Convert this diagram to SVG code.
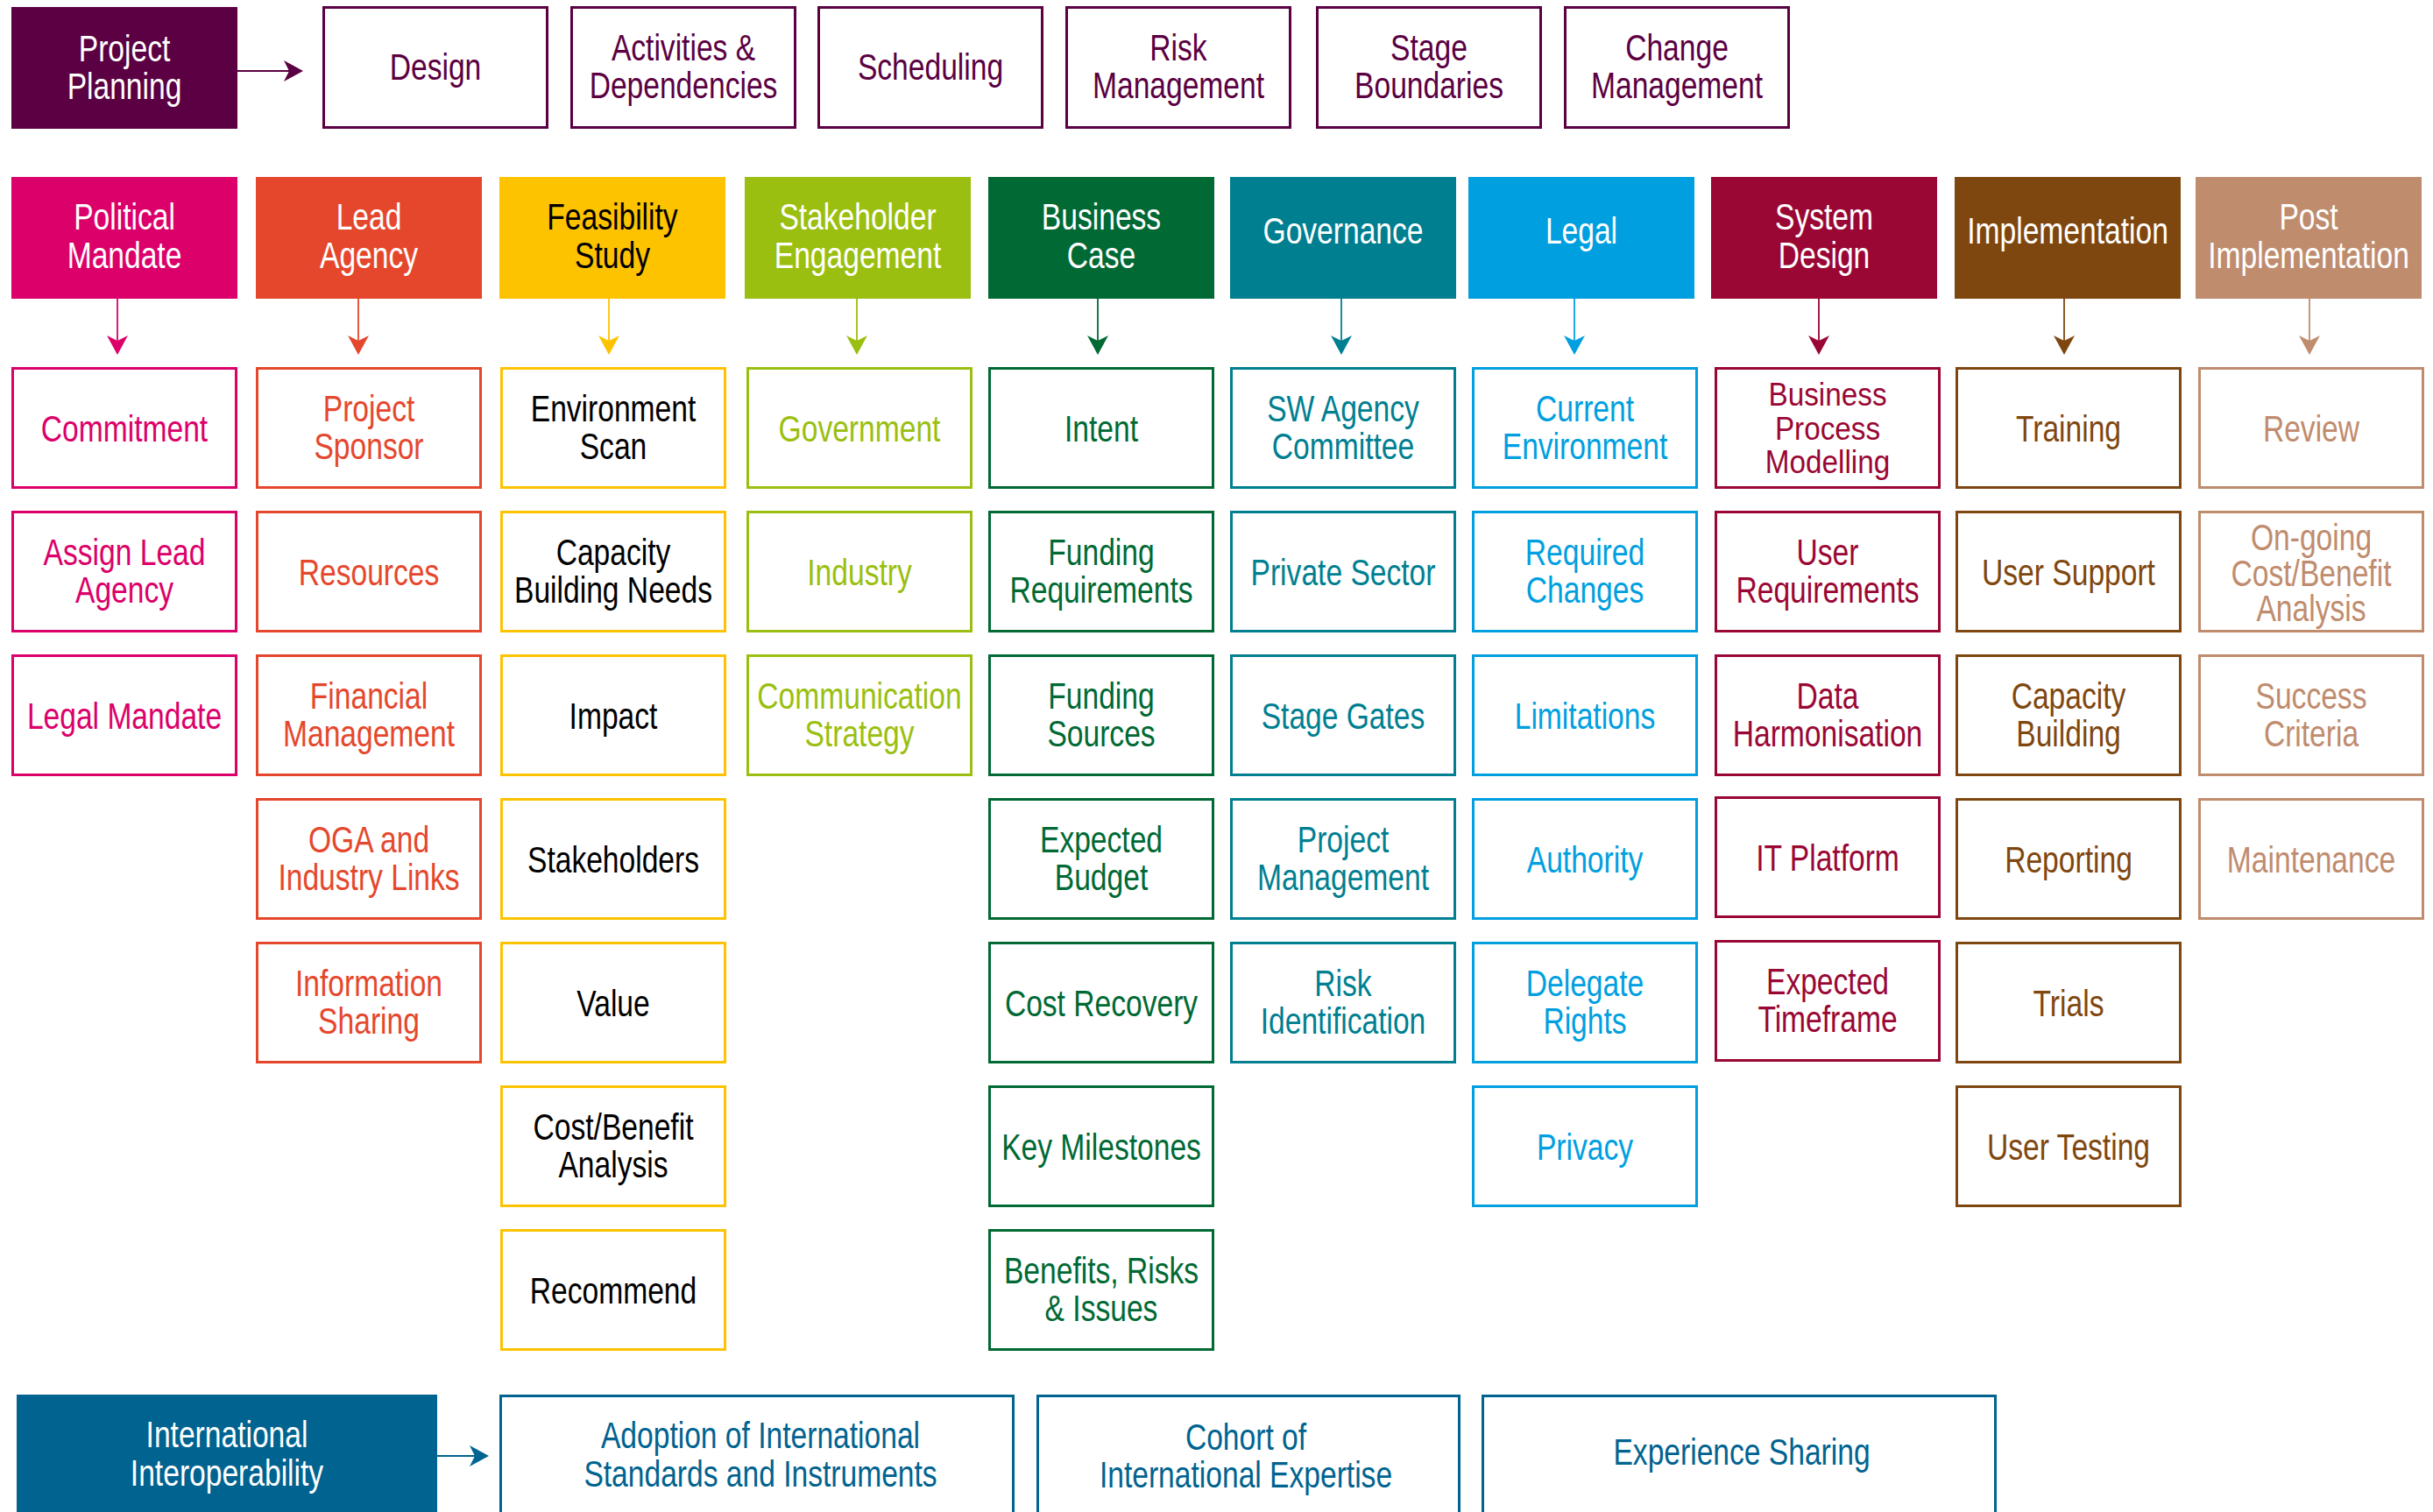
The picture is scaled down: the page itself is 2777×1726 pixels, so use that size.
<svg xmlns="http://www.w3.org/2000/svg" width="2777" height="1726" viewBox="0 0 2777 1726">
<style>
text{font-family:"Liberation Sans",Arial,sans-serif;font-size:42px;text-anchor:middle}
.b{fill:#fff;stroke-width:3}
.w{fill:#fff}
.k{fill:#000}
.ln{fill:none;stroke-width:1.8}
.pu{stroke:#5B0042}.Fpu{fill:#5B0042}
.c0{stroke:#DB006A}.f0{fill:#DB006A}
.c1{stroke:#E5472D}.f1{fill:#E5472D}
.c2{stroke:#FDC300}.f2{fill:#FDC300}
.c3{stroke:#9ABF10}.f3{fill:#9ABF10}
.c4{stroke:#006934}.f4{fill:#006934}
.c5{stroke:#007F91}.f5{fill:#007F91}
.c6{stroke:#009FE0}.f6{fill:#009FE0}
.c7{stroke:#9A0734}.f7{fill:#9A0734}
.c8{stroke:#7F4710}.f8{fill:#7F4710}
.c9{stroke:#BF8C6E}.f9{fill:#BF8C6E}
.nv{stroke:#006390}.Fnv{fill:#006390}
</style>
<defs>
<marker id="m-pu" markerUnits="userSpaceOnUse" markerWidth="22" markerHeight="24" refX="6" refY="12" orient="auto"><path d="M0,0 L22,12 L0,24 L6,12 Z" fill="#5B0042"/></marker>
<marker id="m-nv" markerUnits="userSpaceOnUse" markerWidth="22" markerHeight="24" refX="6" refY="12" orient="auto"><path d="M0,0 L22,12 L0,24 L6,12 Z" fill="#006390"/></marker>
<marker id="m0" markerUnits="userSpaceOnUse" markerWidth="22" markerHeight="24" refX="6" refY="12" orient="auto"><path d="M0,0 L22,12 L0,24 L6,12 Z" fill="#DB006A"/></marker>
<marker id="m1" markerUnits="userSpaceOnUse" markerWidth="22" markerHeight="24" refX="6" refY="12" orient="auto"><path d="M0,0 L22,12 L0,24 L6,12 Z" fill="#E5472D"/></marker>
<marker id="m2" markerUnits="userSpaceOnUse" markerWidth="22" markerHeight="24" refX="6" refY="12" orient="auto"><path d="M0,0 L22,12 L0,24 L6,12 Z" fill="#FDC300"/></marker>
<marker id="m3" markerUnits="userSpaceOnUse" markerWidth="22" markerHeight="24" refX="6" refY="12" orient="auto"><path d="M0,0 L22,12 L0,24 L6,12 Z" fill="#9ABF10"/></marker>
<marker id="m4" markerUnits="userSpaceOnUse" markerWidth="22" markerHeight="24" refX="6" refY="12" orient="auto"><path d="M0,0 L22,12 L0,24 L6,12 Z" fill="#006934"/></marker>
<marker id="m5" markerUnits="userSpaceOnUse" markerWidth="22" markerHeight="24" refX="6" refY="12" orient="auto"><path d="M0,0 L22,12 L0,24 L6,12 Z" fill="#007F91"/></marker>
<marker id="m6" markerUnits="userSpaceOnUse" markerWidth="22" markerHeight="24" refX="6" refY="12" orient="auto"><path d="M0,0 L22,12 L0,24 L6,12 Z" fill="#009FE0"/></marker>
<marker id="m7" markerUnits="userSpaceOnUse" markerWidth="22" markerHeight="24" refX="6" refY="12" orient="auto"><path d="M0,0 L22,12 L0,24 L6,12 Z" fill="#9A0734"/></marker>
<marker id="m8" markerUnits="userSpaceOnUse" markerWidth="22" markerHeight="24" refX="6" refY="12" orient="auto"><path d="M0,0 L22,12 L0,24 L6,12 Z" fill="#7F4710"/></marker>
<marker id="m9" markerUnits="userSpaceOnUse" markerWidth="22" markerHeight="24" refX="6" refY="12" orient="auto"><path d="M0,0 L22,12 L0,24 L6,12 Z" fill="#BF8C6E"/></marker>
</defs>
<rect width="2777" height="1726" fill="#fff"/>

<g id="connectors">
<line class="ln pu" x1="271" y1="81" x2="330" y2="81" marker-end="url(#m-pu)"/>
<line class="ln nv" x1="499" y1="1662" x2="542" y2="1662" marker-end="url(#m-nv)"/>
<line class="ln c0" x1="134" y1="341" x2="134" y2="389" marker-end="url(#m0)"/>
<line class="ln c1" x1="409" y1="341" x2="409" y2="389" marker-end="url(#m1)"/>
<line class="ln c2" x1="695" y1="341" x2="695" y2="389" marker-end="url(#m2)"/>
<line class="ln c3" x1="978" y1="341" x2="978" y2="389" marker-end="url(#m3)"/>
<line class="ln c4" x1="1253" y1="341" x2="1253" y2="389" marker-end="url(#m4)"/>
<line class="ln c5" x1="1531" y1="341" x2="1531" y2="389" marker-end="url(#m5)"/>
<line class="ln c6" x1="1797" y1="341" x2="1797" y2="389" marker-end="url(#m6)"/>
<line class="ln c7" x1="2076" y1="341" x2="2076" y2="389" marker-end="url(#m7)"/>
<line class="ln c8" x1="2356" y1="341" x2="2356" y2="389" marker-end="url(#m8)"/>
<line class="ln c9" x1="2636" y1="341" x2="2636" y2="389" marker-end="url(#m9)"/>
</g>

<g id="nodes">
<!-- top row -->
<g id="project-planning"><rect class="Fpu" x="13" y="8" width="258" height="139"/><text class="w" transform="matrix(.8 0 0 1 142 77.5)"><tspan x="0" y="-8">Project</tspan><tspan x="0" y="35">Planning</tspan></text></g>
<g id="design"><rect class="b pu" x="369.5" y="8.5" width="255" height="137"/><text class="Fpu" transform="matrix(.8 0 0 1 497 77)"><tspan x="0" y="14">Design</tspan></text></g>
<g id="activities"><rect class="b pu" x="652.5" y="8.5" width="255" height="137"/><text class="Fpu" transform="matrix(.8 0 0 1 780 77)"><tspan x="0" y="-8">Activities &amp;</tspan><tspan x="0" y="35">Dependencies</tspan></text></g>
<g id="scheduling"><rect class="b pu" x="934.5" y="8.5" width="255" height="137"/><text class="Fpu" transform="matrix(.8 0 0 1 1062 77)"><tspan x="0" y="14">Scheduling</tspan></text></g>
<g id="risk-management"><rect class="b pu" x="1217.5" y="8.5" width="255" height="137"/><text class="Fpu" transform="matrix(.8 0 0 1 1345 77)"><tspan x="0" y="-8">Risk</tspan><tspan x="0" y="35">Management</tspan></text></g>
<g id="stage-boundaries"><rect class="b pu" x="1503.5" y="8.5" width="255" height="137"/><text class="Fpu" transform="matrix(.8 0 0 1 1631 77)"><tspan x="0" y="-8">Stage</tspan><tspan x="0" y="35">Boundaries</tspan></text></g>
<g id="change-management"><rect class="b pu" x="1786.5" y="8.5" width="255" height="137"/><text class="Fpu" transform="matrix(.8 0 0 1 1914 77)"><tspan x="0" y="-8">Change</tspan><tspan x="0" y="35">Management</tspan></text></g>

<!-- headers -->
<g id="political-mandate"><rect class="f0" x="13" y="202" width="258" height="139"/><text class="w" transform="matrix(.8 0 0 1 142 271.5)"><tspan x="0" y="-10">Political</tspan><tspan x="0" y="34">Mandate</tspan></text></g>
<g id="lead-agency"><rect class="f1" x="292" y="202" width="258" height="139"/><text class="w" transform="matrix(.8 0 0 1 421 271.5)"><tspan x="0" y="-10">Lead</tspan><tspan x="0" y="34">Agency</tspan></text></g>
<g id="feasibility-study"><rect class="f2" x="570" y="202" width="258" height="139"/><text class="k" transform="matrix(.8 0 0 1 699 271.5)"><tspan x="0" y="-10">Feasibility</tspan><tspan x="0" y="34">Study</tspan></text></g>
<g id="stakeholder-engagement"><rect class="f3" x="850" y="202" width="258" height="139"/><text class="w" transform="matrix(.8 0 0 1 979 271.5)"><tspan x="0" y="-10">Stakeholder</tspan><tspan x="0" y="34">Engagement</tspan></text></g>
<g id="business-case"><rect class="f4" x="1128" y="202" width="258" height="139"/><text class="w" transform="matrix(.8 0 0 1 1257 271.5)"><tspan x="0" y="-10">Business</tspan><tspan x="0" y="34">Case</tspan></text></g>
<g id="governance"><rect class="f5" x="1404" y="202" width="258" height="139"/><text class="w" transform="matrix(.8 0 0 1 1533 271.5)"><tspan x="0" y="6">Governance</tspan></text></g>
<g id="legal"><rect class="f6" x="1676" y="202" width="258" height="139"/><text class="w" transform="matrix(.8 0 0 1 1805 271.5)"><tspan x="0" y="6">Legal</tspan></text></g>
<g id="system-design"><rect class="f7" x="1953" y="202" width="258" height="139"/><text class="w" transform="matrix(.8 0 0 1 2082 271.5)"><tspan x="0" y="-10">System</tspan><tspan x="0" y="34">Design</tspan></text></g>
<g id="implementation"><rect class="f8" x="2231" y="202" width="258" height="139"/><text class="w" transform="matrix(.8 0 0 1 2360 271.5)"><tspan x="0" y="6">Implementation</tspan></text></g>
<g id="post-implementation"><rect class="f9" x="2506" y="202" width="258" height="139"/><text class="w" transform="matrix(.8 0 0 1 2635 271.5)"><tspan x="0" y="-10">Post</tspan><tspan x="0" y="34">Implementation</tspan></text></g>

<!-- column 0 -->
<g id="commitment"><rect class="b c0" x="14.5" y="420.5" width="255" height="136"/><text class="f0" transform="matrix(.8 0 0 1 142 488.5)"><tspan x="0" y="15">Commitment</tspan></text></g>
<g id="assign-lead-agency"><rect class="b c0" x="14.5" y="584.5" width="255" height="136"/><text class="f0" transform="matrix(.8 0 0 1 142 652.5)"><tspan x="0" y="-8">Assign Lead</tspan><tspan x="0" y="35">Agency</tspan></text></g>
<g id="legal-mandate"><rect class="b c0" x="14.5" y="748.5" width="255" height="136"/><text class="f0" transform="matrix(.8 0 0 1 142 816.5)"><tspan x="0" y="15">Legal Mandate</tspan></text></g>

<!-- column 1 -->
<g id="project-sponsor"><rect class="b c1" x="293.5" y="420.5" width="255" height="136"/><text class="f1" transform="matrix(.8 0 0 1 421 488.5)"><tspan x="0" y="-8">Project</tspan><tspan x="0" y="35">Sponsor</tspan></text></g>
<g id="resources"><rect class="b c1" x="293.5" y="584.5" width="255" height="136"/><text class="f1" transform="matrix(.8 0 0 1 421 652.5)"><tspan x="0" y="15">Resources</tspan></text></g>
<g id="financial-management"><rect class="b c1" x="293.5" y="748.5" width="255" height="136"/><text class="f1" transform="matrix(.8 0 0 1 421 816.5)"><tspan x="0" y="-8">Financial</tspan><tspan x="0" y="35">Management</tspan></text></g>
<g id="oga-industry-links"><rect class="b c1" x="293.5" y="912.5" width="255" height="136"/><text class="f1" transform="matrix(.8 0 0 1 421 980.5)"><tspan x="0" y="-8">OGA and</tspan><tspan x="0" y="35">Industry Links</tspan></text></g>
<g id="information-sharing"><rect class="b c1" x="293.5" y="1076.5" width="255" height="136"/><text class="f1" transform="matrix(.8 0 0 1 421 1144.5)"><tspan x="0" y="-8">Information</tspan><tspan x="0" y="35">Sharing</tspan></text></g>

<!-- column 2 -->
<g id="environment-scan"><rect class="b c2" x="572.5" y="420.5" width="255" height="136"/><text class="k" transform="matrix(.8 0 0 1 700 488.5)"><tspan x="0" y="-8">Environment</tspan><tspan x="0" y="35">Scan</tspan></text></g>
<g id="capacity-building-needs"><rect class="b c2" x="572.5" y="584.5" width="255" height="136"/><text class="k" transform="matrix(.8 0 0 1 700 652.5)"><tspan x="0" y="-8">Capacity</tspan><tspan x="0" y="35">Building Needs</tspan></text></g>
<g id="impact"><rect class="b c2" x="572.5" y="748.5" width="255" height="136"/><text class="k" transform="matrix(.8 0 0 1 700 816.5)"><tspan x="0" y="15">Impact</tspan></text></g>
<g id="stakeholders"><rect class="b c2" x="572.5" y="912.5" width="255" height="136"/><text class="k" transform="matrix(.8 0 0 1 700 980.5)"><tspan x="0" y="15">Stakeholders</tspan></text></g>
<g id="value"><rect class="b c2" x="572.5" y="1076.5" width="255" height="136"/><text class="k" transform="matrix(.8 0 0 1 700 1144.5)"><tspan x="0" y="15">Value</tspan></text></g>
<g id="cost-benefit-analysis"><rect class="b c2" x="572.5" y="1240.5" width="255" height="136"/><text class="k" transform="matrix(.8 0 0 1 700 1308.5)"><tspan x="0" y="-8">Cost/Benefit</tspan><tspan x="0" y="35">Analysis</tspan></text></g>
<g id="recommend"><rect class="b c2" x="572.5" y="1404.5" width="255" height="136"/><text class="k" transform="matrix(.8 0 0 1 700 1472.5)"><tspan x="0" y="15">Recommend</tspan></text></g>

<!-- column 3 -->
<g id="government"><rect class="b c3" x="853.5" y="420.5" width="255" height="136"/><text class="f3" transform="matrix(.8 0 0 1 981 488.5)"><tspan x="0" y="15">Government</tspan></text></g>
<g id="industry"><rect class="b c3" x="853.5" y="584.5" width="255" height="136"/><text class="f3" transform="matrix(.8 0 0 1 981 652.5)"><tspan x="0" y="15">Industry</tspan></text></g>
<g id="communication-strategy"><rect class="b c3" x="853.5" y="748.5" width="255" height="136"/><text class="f3" transform="matrix(.8 0 0 1 981 816.5)"><tspan x="0" y="-8">Communication</tspan><tspan x="0" y="35">Strategy</tspan></text></g>

<!-- column 4 -->
<g id="intent"><rect class="b c4" x="1129.5" y="420.5" width="255" height="136"/><text class="f4" transform="matrix(.8 0 0 1 1257 488.5)"><tspan x="0" y="15">Intent</tspan></text></g>
<g id="funding-requirements"><rect class="b c4" x="1129.5" y="584.5" width="255" height="136"/><text class="f4" transform="matrix(.8 0 0 1 1257 652.5)"><tspan x="0" y="-8">Funding</tspan><tspan x="0" y="35">Requirements</tspan></text></g>
<g id="funding-sources"><rect class="b c4" x="1129.5" y="748.5" width="255" height="136"/><text class="f4" transform="matrix(.8 0 0 1 1257 816.5)"><tspan x="0" y="-8">Funding</tspan><tspan x="0" y="35">Sources</tspan></text></g>
<g id="expected-budget"><rect class="b c4" x="1129.5" y="912.5" width="255" height="136"/><text class="f4" transform="matrix(.8 0 0 1 1257 980.5)"><tspan x="0" y="-8">Expected</tspan><tspan x="0" y="35">Budget</tspan></text></g>
<g id="cost-recovery"><rect class="b c4" x="1129.5" y="1076.5" width="255" height="136"/><text class="f4" transform="matrix(.8 0 0 1 1257 1144.5)"><tspan x="0" y="15">Cost Recovery</tspan></text></g>
<g id="key-milestones"><rect class="b c4" x="1129.5" y="1240.5" width="255" height="136"/><text class="f4" transform="matrix(.8 0 0 1 1257 1308.5)"><tspan x="0" y="15">Key Milestones</tspan></text></g>
<g id="benefits-risks-issues"><rect class="b c4" x="1129.5" y="1404.5" width="255" height="136"/><text class="f4" transform="matrix(.8 0 0 1 1257 1472.5)"><tspan x="0" y="-8">Benefits, Risks</tspan><tspan x="0" y="35">&amp; Issues</tspan></text></g>

<!-- column 5 -->
<g id="sw-agency-committee"><rect class="b c5" x="1405.5" y="420.5" width="255" height="136"/><text class="f5" transform="matrix(.8 0 0 1 1533 488.5)"><tspan x="0" y="-8">SW Agency</tspan><tspan x="0" y="35">Committee</tspan></text></g>
<g id="private-sector"><rect class="b c5" x="1405.5" y="584.5" width="255" height="136"/><text class="f5" transform="matrix(.8 0 0 1 1533 652.5)"><tspan x="0" y="15">Private Sector</tspan></text></g>
<g id="stage-gates"><rect class="b c5" x="1405.5" y="748.5" width="255" height="136"/><text class="f5" transform="matrix(.8 0 0 1 1533 816.5)"><tspan x="0" y="15">Stage Gates</tspan></text></g>
<g id="project-management"><rect class="b c5" x="1405.5" y="912.5" width="255" height="136"/><text class="f5" transform="matrix(.8 0 0 1 1533 980.5)"><tspan x="0" y="-8">Project</tspan><tspan x="0" y="35">Management</tspan></text></g>
<g id="risk-identification"><rect class="b c5" x="1405.5" y="1076.5" width="255" height="136"/><text class="f5" transform="matrix(.8 0 0 1 1533 1144.5)"><tspan x="0" y="-8">Risk</tspan><tspan x="0" y="35">Identification</tspan></text></g>

<!-- column 6 -->
<g id="current-environment"><rect class="b c6" x="1681.5" y="420.5" width="255" height="136"/><text class="f6" transform="matrix(.8 0 0 1 1809 488.5)"><tspan x="0" y="-8">Current</tspan><tspan x="0" y="35">Environment</tspan></text></g>
<g id="required-changes"><rect class="b c6" x="1681.5" y="584.5" width="255" height="136"/><text class="f6" transform="matrix(.8 0 0 1 1809 652.5)"><tspan x="0" y="-8">Required</tspan><tspan x="0" y="35">Changes</tspan></text></g>
<g id="limitations"><rect class="b c6" x="1681.5" y="748.5" width="255" height="136"/><text class="f6" transform="matrix(.8 0 0 1 1809 816.5)"><tspan x="0" y="15">Limitations</tspan></text></g>
<g id="authority"><rect class="b c6" x="1681.5" y="912.5" width="255" height="136"/><text class="f6" transform="matrix(.8 0 0 1 1809 980.5)"><tspan x="0" y="15">Authority</tspan></text></g>
<g id="delegate-rights"><rect class="b c6" x="1681.5" y="1076.5" width="255" height="136"/><text class="f6" transform="matrix(.8 0 0 1 1809 1144.5)"><tspan x="0" y="-8">Delegate</tspan><tspan x="0" y="35">Rights</tspan></text></g>
<g id="privacy"><rect class="b c6" x="1681.5" y="1240.5" width="255" height="136"/><text class="f6" transform="matrix(.8 0 0 1 1809 1308.5)"><tspan x="0" y="15">Privacy</tspan></text></g>

<!-- column 7 -->
<g id="business-process-modelling"><rect class="b c7" x="1958.5" y="420.5" width="255" height="136"/><text class="f7" style="font-size:37px" transform="matrix(.9 0 0 1 2086 488.5)"><tspan x="0" y="-26">Business</tspan><tspan x="0" y="13">Process</tspan><tspan x="0" y="52">Modelling</tspan></text></g>
<g id="user-requirements"><rect class="b c7" x="1958.5" y="584.5" width="255" height="136"/><text class="f7" transform="matrix(.8 0 0 1 2086 652.5)"><tspan x="0" y="-8">User</tspan><tspan x="0" y="35">Requirements</tspan></text></g>
<g id="data-harmonisation"><rect class="b c7" x="1958.5" y="748.5" width="255" height="136"/><text class="f7" transform="matrix(.8 0 0 1 2086 816.5)"><tspan x="0" y="-8">Data</tspan><tspan x="0" y="35">Harmonisation</tspan></text></g>
<g id="it-platform"><rect class="b c7" x="1958.5" y="910.5" width="255" height="136"/><text class="f7" transform="matrix(.8 0 0 1 2086 978.5)"><tspan x="0" y="15">IT Platform</tspan></text></g>
<g id="expected-timeframe"><rect class="b c7" x="1958.5" y="1074.5" width="255" height="136"/><text class="f7" transform="matrix(.8 0 0 1 2086 1142.5)"><tspan x="0" y="-8">Expected</tspan><tspan x="0" y="35">Timeframe</tspan></text></g>

<!-- column 8 -->
<g id="training"><rect class="b c8" x="2233.5" y="420.5" width="255" height="136"/><text class="f8" transform="matrix(.8 0 0 1 2361 488.5)"><tspan x="0" y="15">Training</tspan></text></g>
<g id="user-support"><rect class="b c8" x="2233.5" y="584.5" width="255" height="136"/><text class="f8" transform="matrix(.8 0 0 1 2361 652.5)"><tspan x="0" y="15">User Support</tspan></text></g>
<g id="capacity-building"><rect class="b c8" x="2233.5" y="748.5" width="255" height="136"/><text class="f8" transform="matrix(.8 0 0 1 2361 816.5)"><tspan x="0" y="-8">Capacity</tspan><tspan x="0" y="35">Building</tspan></text></g>
<g id="reporting"><rect class="b c8" x="2233.5" y="912.5" width="255" height="136"/><text class="f8" transform="matrix(.8 0 0 1 2361 980.5)"><tspan x="0" y="15">Reporting</tspan></text></g>
<g id="trials"><rect class="b c8" x="2233.5" y="1076.5" width="255" height="136"/><text class="f8" transform="matrix(.8 0 0 1 2361 1144.5)"><tspan x="0" y="15">Trials</tspan></text></g>
<g id="user-testing"><rect class="b c8" x="2233.5" y="1240.5" width="255" height="136"/><text class="f8" transform="matrix(.8 0 0 1 2361 1308.5)"><tspan x="0" y="15">User Testing</tspan></text></g>

<!-- column 9 -->
<g id="review"><rect class="b c9" x="2510.5" y="420.5" width="255" height="136"/><text class="f9" transform="matrix(.8 0 0 1 2638 488.5)"><tspan x="0" y="15">Review</tspan></text></g>
<g id="ongoing-cost-benefit"><rect class="b c9" x="2510.5" y="584.5" width="255" height="136"/><text class="f9" transform="matrix(.8 0 0 1 2638 652.5)"><tspan x="0" y="-25">On-going</tspan><tspan x="0" y="16">Cost/Benefit</tspan><tspan x="0" y="57">Analysis</tspan></text></g>
<g id="success-criteria"><rect class="b c9" x="2510.5" y="748.5" width="255" height="136"/><text class="f9" transform="matrix(.8 0 0 1 2638 816.5)"><tspan x="0" y="-8">Success</tspan><tspan x="0" y="35">Criteria</tspan></text></g>
<g id="maintenance"><rect class="b c9" x="2510.5" y="912.5" width="255" height="136"/><text class="f9" transform="matrix(.8 0 0 1 2638 980.5)"><tspan x="0" y="15">Maintenance</tspan></text></g>

<!-- bottom row -->
<g id="international-interoperability"><rect class="Fnv" x="19" y="1592" width="480" height="160"/><text class="w" transform="matrix(.8 0 0 1 259 0)"><tspan x="0" y="1652">International</tspan><tspan x="0" y="1696">Interoperability</tspan></text></g>
<g id="adoption-standards"><rect class="b nv" x="571.5" y="1593.5" width="585" height="160"/><text class="Fnv" transform="matrix(.8 0 0 1 868 0)"><tspan x="0" y="1653">Adoption of International</tspan><tspan x="0" y="1697">Standards and Instruments</tspan></text></g>
<g id="cohort-expertise"><rect class="b nv" x="1184.5" y="1593.5" width="481" height="160"/><text class="Fnv" transform="matrix(.8 0 0 1 1422 0)"><tspan x="0" y="1655">Cohort of</tspan><tspan x="0" y="1698">International Expertise</tspan></text></g>
<g id="experience-sharing"><rect class="b nv" x="1692.5" y="1593.5" width="585" height="160"/><text class="Fnv" transform="matrix(.8 0 0 1 1988 0)"><tspan x="0" y="1672">Experience Sharing</tspan></text></g>
</g>
</svg>
